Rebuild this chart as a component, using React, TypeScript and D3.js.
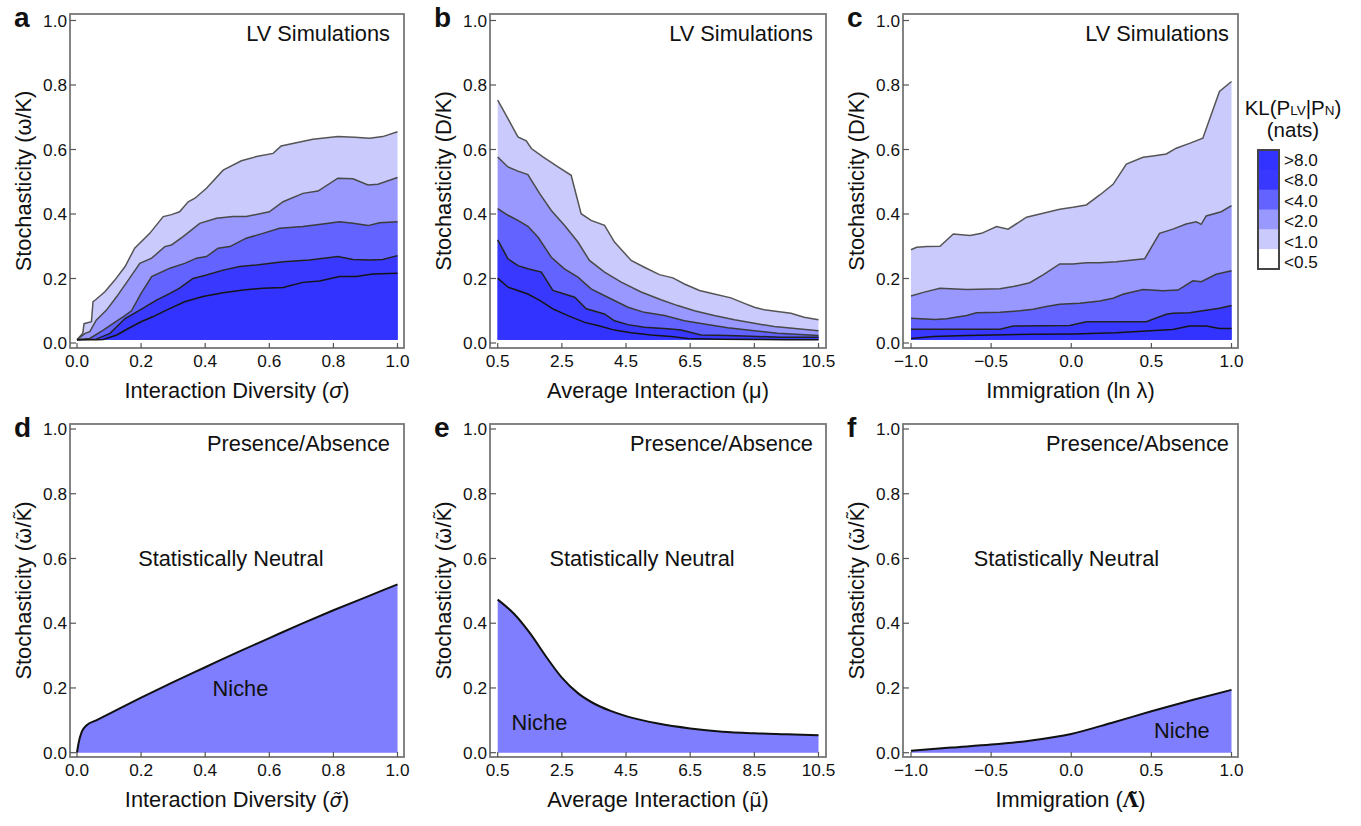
import React from "react";
import * as d3 from "d3";

type Pt = [number, number];

// axis ticks
const yTicks = [0, 0.2, 0.4, 0.6, 0.8, 1.0];
const sigmaTicks = [0, 0.2, 0.4, 0.6, 0.8, 1.0];
const muTicks = [0.5, 2.5, 4.5, 6.5, 8.5, 10.5];
const lambdaTicks = [-1, -0.5, 0, 0.5, 1];

// KL legend
const klLevels = [">8.0", "<8.0", "<4.0", "<2.0", "<1.0", "<0.5"];
const klColors = ["#3333ff", "#3838ff", "#6363ff", "#9898ff", "#cacafc", "#ffffff"];
const nicheColor = "#7e7eff";

// panel a: contour lines (top -> bottom), sigma vs omega/K
const aL1: Pt[] = [[0, 0.01], [0.018, 0.03], [0.022, 0.06], [0.045, 0.066], [0.05, 0.128], [0.058, 0.134], [0.087, 0.159], [0.118, 0.195], [0.15, 0.237], [0.18, 0.294], [0.227, 0.34], [0.269, 0.392], [0.295, 0.398], [0.32, 0.407], [0.347, 0.438], [0.368, 0.449], [0.404, 0.48], [0.456, 0.536], [0.513, 0.565], [0.56, 0.578], [0.612, 0.588], [0.637, 0.611], [0.684, 0.621], [0.736, 0.632], [0.814, 0.64], [0.866, 0.638], [0.913, 0.635], [0.954, 0.64], [1.0, 0.655]];
const aL2: Pt[] = [[0, 0.01], [0.025, 0.03], [0.04, 0.035], [0.06, 0.071], [0.092, 0.102], [0.124, 0.144], [0.16, 0.195], [0.196, 0.247], [0.233, 0.263], [0.274, 0.299], [0.295, 0.304], [0.331, 0.33], [0.383, 0.371], [0.435, 0.387], [0.487, 0.392], [0.528, 0.392], [0.6, 0.407], [0.643, 0.438], [0.705, 0.464], [0.752, 0.471], [0.814, 0.511], [0.861, 0.509], [0.908, 0.49], [0.939, 0.492], [1.0, 0.513]];
const aL3: Pt[] = [[0, 0.01], [0.04, 0.014], [0.082, 0.04], [0.113, 0.061], [0.145, 0.082], [0.17, 0.1], [0.2, 0.154], [0.233, 0.206], [0.29, 0.232], [0.336, 0.247], [0.373, 0.263], [0.404, 0.268], [0.44, 0.294], [0.477, 0.299], [0.528, 0.325], [0.58, 0.34], [0.632, 0.356], [0.705, 0.361], [0.767, 0.369], [0.819, 0.376], [0.861, 0.371], [0.908, 0.364], [0.944, 0.373], [1.0, 0.376]];
const aL4: Pt[] = [[0, 0.01], [0.06, 0.012], [0.103, 0.03], [0.15, 0.076], [0.196, 0.102], [0.248, 0.133], [0.29, 0.154], [0.32, 0.17], [0.362, 0.2], [0.404, 0.211], [0.456, 0.226], [0.508, 0.237], [0.56, 0.242], [0.643, 0.252], [0.726, 0.257], [0.814, 0.268], [0.861, 0.259], [0.913, 0.257], [0.954, 0.259], [1.0, 0.271]];
const aL5: Pt[] = [[0, 0.01], [0.06, 0.01], [0.082, 0.011], [0.124, 0.025], [0.16, 0.045], [0.2, 0.066], [0.238, 0.082], [0.279, 0.102], [0.336, 0.128], [0.393, 0.144], [0.456, 0.156], [0.519, 0.164], [0.58, 0.17], [0.643, 0.172], [0.705, 0.188], [0.757, 0.192], [0.819, 0.206], [0.871, 0.206], [0.923, 0.214], [1.0, 0.216]];

// panel b: mu vs D/K
const bL1: Pt[] = [[0.5, 0.753], [0.82, 0.696], [1.13, 0.639], [1.39, 0.627], [1.55, 0.603], [1.91, 0.577], [2.38, 0.546], [2.79, 0.52], [3.1, 0.401], [3.41, 0.38], [3.83, 0.365], [4.14, 0.313], [4.66, 0.256], [5.07, 0.235], [5.54, 0.212], [5.96, 0.202], [6.32, 0.183], [6.79, 0.163], [7.25, 0.152], [7.77, 0.14], [8.19, 0.123], [8.5, 0.111], [8.81, 0.103], [9.22, 0.098], [9.64, 0.092], [10.05, 0.08], [10.5, 0.072]];
const bL2: Pt[] = [[0.5, 0.577], [0.82, 0.546], [1.13, 0.533], [1.44, 0.522], [1.81, 0.463], [2.17, 0.411], [2.58, 0.365], [3.0, 0.313], [3.36, 0.256], [3.83, 0.22], [4.35, 0.189], [4.97, 0.158], [5.59, 0.134], [6.11, 0.116], [6.63, 0.1], [7.25, 0.085], [7.88, 0.072], [8.5, 0.061], [9.12, 0.051], [9.85, 0.044], [10.5, 0.038]];
const bL3: Pt[] = [[0.5, 0.417], [0.82, 0.396], [1.13, 0.38], [1.44, 0.362], [1.76, 0.328], [2.17, 0.266], [2.58, 0.23], [3.0, 0.204], [3.41, 0.168], [3.93, 0.142], [4.56, 0.111], [5.07, 0.095], [5.7, 0.085], [6.32, 0.069], [6.94, 0.059], [7.67, 0.047], [8.5, 0.038], [9.22, 0.03], [10.5, 0.023]];
const bL4: Pt[] = [[0.5, 0.32], [0.82, 0.261], [1.13, 0.24], [1.44, 0.23], [1.86, 0.22], [2.22, 0.163], [2.58, 0.152], [2.9, 0.142], [3.26, 0.106], [3.83, 0.09], [4.14, 0.069], [4.56, 0.057], [5.07, 0.049], [5.8, 0.044], [6.22, 0.04], [6.84, 0.025], [7.67, 0.023], [8.4, 0.021], [9.33, 0.018], [10.5, 0.018]];
const bL5: Pt[] = [[0.5, 0.201], [0.82, 0.173], [1.13, 0.163], [1.44, 0.152], [1.81, 0.132], [2.22, 0.106], [2.69, 0.085], [3.21, 0.064], [3.62, 0.054], [4.14, 0.04], [4.66, 0.032], [5.28, 0.025], [5.9, 0.02], [6.42, 0.014], [7.46, 0.012], [8.5, 0.011], [9.43, 0.01], [10.5, 0.01]];

// panel c: ln lambda vs D/K
const cL1: Pt[] = [[-1, 0.289], [-0.965, 0.297], [-0.9, 0.299], [-0.819, 0.3], [-0.736, 0.338], [-0.632, 0.333], [-0.56, 0.34], [-0.466, 0.361], [-0.394, 0.353], [-0.279, 0.39], [-0.176, 0.402], [-0.072, 0.415], [0.011, 0.421], [0.094, 0.428], [0.178, 0.459], [0.261, 0.492], [0.344, 0.555], [0.448, 0.576], [0.51, 0.58], [0.593, 0.586], [0.655, 0.604], [0.738, 0.619], [0.821, 0.635], [0.925, 0.78], [1.0, 0.811]];
const cL2: Pt[] = [[-1, 0.146], [-0.923, 0.157], [-0.819, 0.17], [-0.653, 0.166], [-0.445, 0.168], [-0.362, 0.175], [-0.259, 0.187], [-0.176, 0.211], [-0.072, 0.245], [0.011, 0.245], [0.094, 0.249], [0.178, 0.249], [0.281, 0.252], [0.385, 0.257], [0.458, 0.261], [0.551, 0.34], [0.634, 0.353], [0.717, 0.369], [0.78, 0.376], [0.811, 0.368], [0.842, 0.394], [0.936, 0.407], [1.0, 0.426]];
const cL3: Pt[] = [[-1, 0.077], [-0.85, 0.073], [-0.778, 0.075], [-0.653, 0.085], [-0.591, 0.094], [-0.445, 0.095], [-0.321, 0.1], [-0.238, 0.105], [-0.155, 0.113], [-0.072, 0.12], [0.053, 0.123], [0.178, 0.13], [0.261, 0.139], [0.323, 0.151], [0.448, 0.166], [0.572, 0.162], [0.666, 0.164], [0.759, 0.193], [0.811, 0.19], [0.904, 0.213], [1.0, 0.224]];
const cL4: Pt[] = [[-1, 0.043], [-0.445, 0.043], [-0.362, 0.053], [-0.009, 0.054], [0.094, 0.066], [0.468, 0.066], [0.593, 0.089], [0.634, 0.092], [0.738, 0.094], [0.821, 0.1], [0.925, 0.108], [1.0, 0.116]];
const cL5: Pt[] = [[-1, 0.014], [-0.86, 0.02], [-0.653, 0.023], [-0.238, 0.027], [0.011, 0.028], [0.281, 0.032], [0.468, 0.037], [0.634, 0.042], [0.738, 0.053], [0.842, 0.053], [0.925, 0.045], [1.0, 0.045]];

// presence/absence boundaries (panels d, e, f)
const dCurve: Pt[] = [[0, 0], [0.005, 0.03], [0.015, 0.065], [0.03, 0.085], [0.06, 0.1], [0.1, 0.12], [0.2, 0.17], [0.3, 0.218], [0.4, 0.264], [0.5, 0.31], [0.6, 0.354], [0.7, 0.398], [0.8, 0.44], [0.9, 0.48], [1.0, 0.52]];
const eCurve: Pt[] = [[0.5, 0.473], [1.0, 0.43], [1.5, 0.37], [2.0, 0.298], [2.5, 0.232], [3.0, 0.184], [3.5, 0.152], [4.0, 0.13], [4.5, 0.113], [5.5, 0.09], [6.5, 0.075], [7.5, 0.065], [8.5, 0.06], [9.5, 0.057], [10.5, 0.054]];
const fCurve: Pt[] = [[-1, 0.006], [-0.75, 0.016], [-0.5, 0.025], [-0.25, 0.038], [0, 0.058], [0.25, 0.092], [0.5, 0.128], [0.75, 0.162], [1.0, 0.194]];

const FONT = "'Liberation Sans', Arial, Helvetica, sans-serif";
const MARK_FONT = "'DejaVu Sans', sans-serif";
const LABEL_SIZE = 21.8;
const TICK_SIZE = 17.2;
const cols = [
  { fx0: 70, fx1: 404, dx0: 77, dx1: 397.5, textRight: 390 },
  { fx0: 490, fx1: 826, dx0: 497.7, dx1: 818.5, textRight: 813 },
  { fx0: 903, fx1: 1238, dx0: 911, dx1: 1231.5, textRight: 1229 },
];
const rows = [
  { fy0: 14, fy1: 348, y0: 343, y1: 20.5 },
  { fy0: 424, fy1: 757, y0: 752.7, y1: 429 },
];

const fmt1 = d3.format(".1f");
const fmtSigned = (v: number) => fmt1(v).replace("-", "\u2212");

interface PanelProps {
  col: number;
  row: number;
  letter: string;
  xDomain: [number, number];
  xTicks: number[];
  xFmt: (v: number) => string;
  yLabel: React.ReactNode;
  xLabel: React.ReactNode;
  title: string;
  lines?: Pt[][];
  curve?: Pt[];
  children?: (x: d3.ScaleLinear<number, number>, y: d3.ScaleLinear<number, number>) => React.ReactNode;
}

function Panel({ col, row, letter, xDomain, xTicks, xFmt, yLabel, xLabel, title, lines, curve, children }: PanelProps) {
  const c = cols[col];
  const r = rows[row];
  const x = d3.scaleLinear().domain(xDomain).range([c.dx0, c.dx1]);
  const y = d3.scaleLinear().domain([0, 1]).range([r.y0, r.y1]);
  const base = 0.01;
  const area = d3.area<Pt>().x((d) => x(d[0])).y0(y(base)).y1((d) => y(d[1]));
  const line = d3.line<Pt>().x((d) => x(d[0])).y((d) => y(d[1]));
  const smoothArea = d3.area<Pt>().x((d) => x(d[0])).y0(y(0)).y1((d) => y(d[1])).curve(d3.curveMonotoneX);
  const smoothLine = d3.line<Pt>().x((d) => x(d[0])).y((d) => y(d[1])).curve(d3.curveMonotoneX);
  const lineColors = ["#555", "#4a4a4a", "#3c3c3c", "#222", "#151515"];

  return (
    <g fontFamily={FONT}>
      {lines &&
        lines.map((l, i) => (
          <path key={"a" + i} d={area(l) || ""} fill={klColors[4 - i]} stroke="none" />
        ))}
      {lines &&
        lines.map((l, i) => (
          <path key={"l" + i} d={line(l) || ""} fill="none" stroke={lineColors[i]} strokeWidth={1.5} />
        ))}
      {curve && <path d={smoothArea(curve) || ""} fill={nicheColor} />}
      {curve && <path d={smoothLine(curve) || ""} fill="none" stroke="#111" strokeWidth={2} />}
      {children && children(x, y)}
      <rect x={c.fx0} y={r.fy0} width={c.fx1 - c.fx0} height={r.fy1 - r.fy0} fill="none" stroke="#777" strokeWidth={1.8} />
      {yTicks.map((t) => (
        <g key={"y" + t}>
          <line x1={c.fx0} x2={c.fx0 + 6} y1={y(t)} y2={y(t)} stroke="#555" strokeWidth={1.2} />
          <text x={c.fx0 - 3} y={y(t)} dy="0.35em" textAnchor="end" fontSize={TICK_SIZE} fill="#111">
            {fmt1(t)}
          </text>
        </g>
      ))}
      {xTicks.map((t) => (
        <g key={"x" + t}>
          <line x1={x(t)} x2={x(t)} y1={r.fy1} y2={r.fy1 - 5} stroke="#555" strokeWidth={1.2} />
          <text x={x(t)} y={r.fy1 + 19} textAnchor="middle" fontSize={TICK_SIZE} fill="#111">
            {xFmt(t)}
          </text>
        </g>
      ))}
      <text x={c.textRight} y={r.fy0 + 26.5} textAnchor="end" fontSize={LABEL_SIZE} fill="#111">
        {title}
      </text>
      <text x={(c.fx0 + c.fx1) / 2} y={r.fy1 + 50} textAnchor="middle" fontSize={LABEL_SIZE} fill="#111">
        {xLabel}
      </text>
      <text
        transform={`translate(${c.fx0 - 39},${(r.fy0 + r.fy1) / 2}) rotate(-90)`}
        textAnchor="middle"
        fontSize={LABEL_SIZE}
        fill="#111"
      >
        {yLabel}
      </text>
      <text x={c.fx0 - 56} y={r.fy0 + 13} fontSize={28} fontWeight="bold" fill="#111">
        {letter}
      </text>
    </g>
  );
}

function Legend() {
  const band = d3.scaleBand<string>().domain(klLevels).range([150, 269]);
  const labelY = d3.scalePoint<string>().domain(klLevels).range([160, 262]);
  return (
    <g fontFamily={FONT} fill="#111">
      <text x={1293} y={115} textAnchor="middle" fontSize={20.5}>
        KL(P<tspan fontSize={13.5}>LV</tspan>|P<tspan fontSize={13.5}>N</tspan>)
      </text>
      <text x={1293} y={137} textAnchor="middle" fontSize={20.5}>
        (nats)
      </text>
      {klLevels.map((k, i) => (
        <rect key={k} x={1258} y={band(k)} width={21} height={band.bandwidth() + 0.5} fill={klColors[i]} />
      ))}
      <rect x={1258} y={150} width={21} height={119} fill="none" stroke="#444" strokeWidth={2} />
      {klLevels.map((k) => (
        <text key={"t" + k} x={1284} y={labelY(k)} dy="0.35em" fontSize={TICK_SIZE}>
          {k}
        </text>
      ))}
    </g>
  );
}

const tildeLabel = (
  <>
    Stochasticity (<tspan fontFamily={MARK_FONT} fontSize={19.5}>{"\u03C9\u0303"}</tspan>/
    <tspan fontFamily={MARK_FONT} fontSize={19.5}>{"K\u0303"}</tspan>)
  </>
);

export default function App() {
  return (
    <svg
      width={1361}
      height={826}
      style={{ position: "absolute", left: 0, top: 0, background: "#fff" }}
    >
      <rect width={1361} height={826} fill="#fff" />
      <Panel
        col={0}
        row={0}
        letter="a"
        xDomain={[0, 1]}
        xTicks={sigmaTicks}
        xFmt={fmt1}
        title="LV Simulations"
        yLabel={<>Stochasticity ({"\u03C9"}/K)</>}
        xLabel={<>Interaction Diversity (<tspan fontStyle="italic">{"\u03C3"}</tspan>)</>}
        lines={[aL1, aL2, aL3, aL4, aL5]}
      />
      <Panel
        col={1}
        row={0}
        letter="b"
        xDomain={[0.5, 10.5]}
        xTicks={muTicks}
        xFmt={fmt1}
        title="LV Simulations"
        yLabel="Stochasticity (D/K)"
        xLabel={<>Average Interaction ({"\u03BC"})</>}
        lines={[bL1, bL2, bL3, bL4, bL5]}
      />
      <Panel
        col={2}
        row={0}
        letter="c"
        xDomain={[-1, 1]}
        xTicks={lambdaTicks}
        xFmt={fmtSigned}
        title="LV Simulations"
        yLabel="Stochasticity (D/K)"
        xLabel={<>Immigration (ln {"\u03BB"})</>}
        lines={[cL1, cL2, cL3, cL4, cL5]}
      />
      <Panel
        col={0}
        row={1}
        letter="d"
        xDomain={[0, 1]}
        xTicks={sigmaTicks}
        xFmt={fmt1}
        title="Presence/Absence"
        yLabel={tildeLabel}
        xLabel={
          <>
            Interaction Diversity (
            <tspan fontFamily={MARK_FONT} fontSize={19.5} fontStyle="italic">
              {"\u03C3\u0303"}
            </tspan>
            )
          </>
        }
        curve={dCurve}
      >
        {(x, y) => (
          <>
            <text x={x(0.48)} y={y(0.6)} dy="0.35em" textAnchor="middle" fontSize={LABEL_SIZE} fill="#111">
              Statistically Neutral
            </text>
            <text x={x(0.51)} y={y(0.2)} dy="0.35em" textAnchor="middle" fontSize={LABEL_SIZE} fill="#111">
              Niche
            </text>
          </>
        )}
      </Panel>
      <Panel
        col={1}
        row={1}
        letter="e"
        xDomain={[0.5, 10.5]}
        xTicks={muTicks}
        xFmt={fmt1}
        title="Presence/Absence"
        yLabel={tildeLabel}
        xLabel={
          <>
            Average Interaction (
            <tspan fontFamily={MARK_FONT} fontSize={19.5}>
              {"\u03BC\u0303"}
            </tspan>
            )
          </>
        }
        curve={eCurve}
      >
        {(x, y) => (
          <>
            <text x={x(5.0)} y={y(0.6)} dy="0.35em" textAnchor="middle" fontSize={LABEL_SIZE} fill="#111">
              Statistically Neutral
            </text>
            <text x={x(1.8)} y={y(0.095)} dy="0.35em" textAnchor="middle" fontSize={LABEL_SIZE} fill="#111">
              Niche
            </text>
          </>
        )}
      </Panel>
      <Panel
        col={2}
        row={1}
        letter="f"
        xDomain={[-1, 1]}
        xTicks={lambdaTicks}
        xFmt={fmtSigned}
        title="Presence/Absence"
        yLabel={tildeLabel}
        xLabel={
          <>
            Immigration (
            <tspan fontFamily="'DejaVu Serif', serif" fontWeight="bold" fontSize={20}>
              {"\u039B\u0303"}
            </tspan>
            )
          </>
        }
        curve={fCurve}
      >
        {(x, y) => (
          <>
            <text x={x(-0.03)} y={y(0.6)} dy="0.35em" textAnchor="middle" fontSize={LABEL_SIZE} fill="#111">
              Statistically Neutral
            </text>
            <text x={x(0.69)} y={y(0.068)} dy="0.35em" textAnchor="middle" fontSize={LABEL_SIZE} fill="#111">
              Niche
            </text>
          </>
        )}
      </Panel>
      <Legend />
    </svg>
  );
}
